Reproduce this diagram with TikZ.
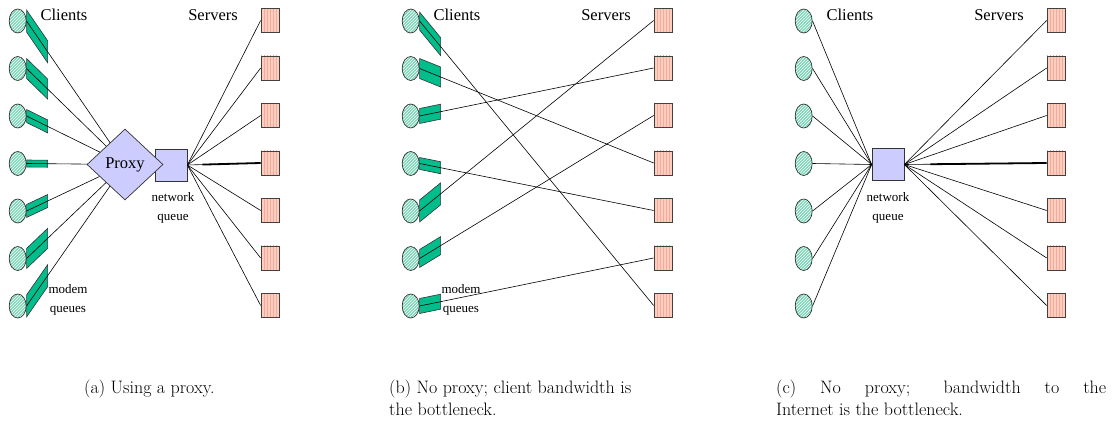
\documentclass[tikz,border=0pt]{standalone}
\usepackage{fontspec}
\usetikzlibrary{shapes.geometric,patterns,calc}
\newfontfamily\figfont{Liberation Serif}
\definecolor{clientgreen}{RGB}{125,215,185}
\definecolor{serverpink}{RGB}{255,205,188}
\definecolor{stripepink}{RGB}{240,172,160}
\definecolor{queuegreen}{RGB}{0,190,140}
\definecolor{proxyblue}{RGB}{204,204,255}
\tikzset{
  client/.style={ellipse, draw=black!80, line width=0.7pt, minimum width=17pt,
    minimum height=24pt, inner sep=0pt, preaction={fill=clientgreen},
    pattern=north east lines, pattern color=white},
  server/.style={rectangle, draw=black!75, line width=0.7pt, minimum width=18pt,
    minimum height=24pt, inner sep=0pt, preaction={fill=serverpink},
    pattern=vertical lines, pattern color=stripepink},
  netq/.style={rectangle, draw=black!80, line width=0.7pt, fill=proxyblue,
    minimum size=32pt, inner sep=0pt},
  proxybox/.style={diamond, draw=black!80, line width=0.7pt, fill=proxyblue,
    minimum width=76pt, minimum height=71pt, inner sep=0pt,
    font=\figfont\fontsize{16.5}{18}\selectfont},
  modemq/.style={draw=black!80, line width=0.6pt, fill=queuegreen},
  link/.style={line width=0.6pt},
  lbl/.style={font=\figfont\fontsize{16.5}{18}\selectfont},
  smalllbl/.style={font=\figfont\fontsize{13}{19}\selectfont, align=center},
  capt/.style={anchor=north west, align=left, inner sep=0pt,
    font=\fontsize{18}{22}\selectfont}
}
% modem queue in front of a client: client, far end of its link, half height
\newcommand{\modemq}[3]{%
  \draw[modemq] let \p1=(#1.east), \p2=(#2), \n1={21*(\y2-\y1)/(\x2-\x1)} in
    (\x1,\y1+#3) -- (\x1+21pt,\y1+\n1*1pt+#3) -- (\x1+21pt,\y1+\n1*1pt-#3)
    -- (\x1,\y1-#3) -- cycle;}

\begin{document}
\begin{tikzpicture}[x=1pt,y=-1pt]
  \useasboundingbox (0,0) rectangle (1120,430);

  % clients and servers of the three setups
  \foreach \pan/\dx in {a/0,b/393,c/786}{
    \foreach \i in {1,...,7}{
      \node[client] (c\pan\i) at ({\dx+17.7},{21+47.5*(\i-1)}) {};
      \node[server] (s\pan\i) at ({\dx+270},{20.5+47.5*(\i-1)}) {};
    }
    \node[lbl, anchor=base] (cl\pan) at ({\dx+64},21) {Clients};
    \node[lbl, anchor=base] (sv\pan) at ({\dx+213},21) {Servers};
  }

  % (a) proxy
  \node[netq] (nqa) at (171,165) {};
  \node[proxybox] (proxy) at (125,164.5) {Proxy};
  \foreach \i/\h in {1/11,2/10,3/6.5,4/3.5,5/6.5,6/10,7/11}{
    \modemq{ca\i}{proxy}{\h pt}
    \draw[link] (ca\i.east) -- (proxy);
  }
  \foreach \i in {1,...,7}
    \draw[link] (nqa.east) -- (sa\i.west);
  \draw[line width=1.8pt, shorten <=15pt] (nqa.east) -- (sa4.west);
  \node[smalllbl] (nqlbla) at (173,208) {network\\queue};
  \node[smalllbl] (mqlbla) at (68,300) {modem\\queues};

  % (b) direct links, modem queues only
  \foreach \i/\j/\h in {1/7/9,2/4/10,3/2/7.5,4/5/6,5/1/11,6/3/9,7/6/7.5}{
    \modemq{cb\i}{sb\j.west}{\h pt}
    \draw[link] (cb\i.east) -- (sb\j.west);
  }
  \node[smalllbl] (mqlblb) at (461,300) {modem\\queues};

  % (c) shared network queue
  \node[netq] (nqc) at (888,164.5) {};
  \foreach \i in {1,...,7}{
    \draw[link] (cc\i.east) -- (nqc.west);
    \draw[link] (nqc.east) -- (sc\i.west);
  }
  \draw[line width=1.8pt, shorten <=26pt] (nqc.east) -- (sc4.west);
  \node[smalllbl] (nqlblc) at (888,208) {network\\queue};

  % captions
  \node[capt] (capa) at (84,380) {(a) Using a proxy.};
  \node[capt] (capb) at (389,380) {(b) No proxy; client bandwidth is\\the bottleneck.};
  \node[capt] (capc) at (776,380) {\makebox[330pt][s]{(c) No proxy; bandwidth to the}\\Internet is the bottleneck.};
\end{tikzpicture}
\end{document}
